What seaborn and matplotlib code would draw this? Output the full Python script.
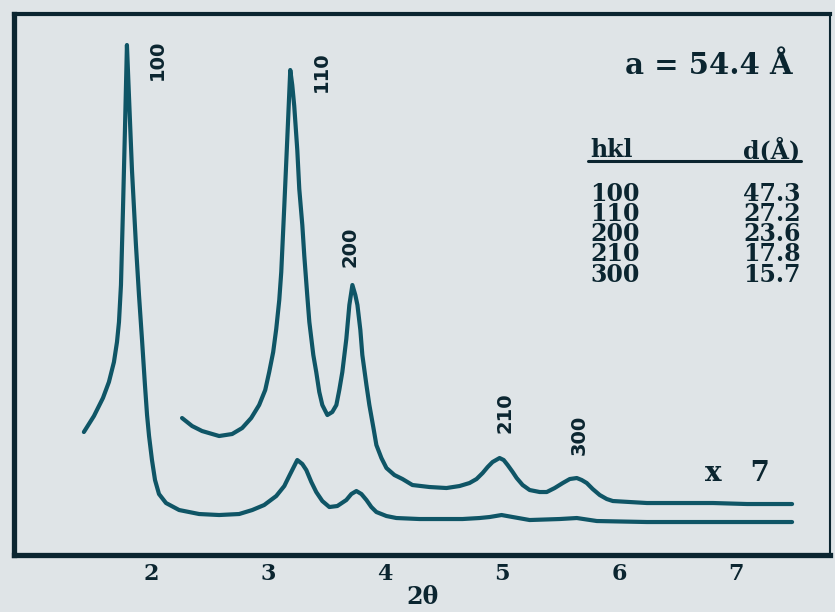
import matplotlib
matplotlib.use("Agg")
import matplotlib.pyplot as plt
import matplotlib.lines as mlines
from matplotlib.transforms import ScaledTranslation
import pandas as pd
import seaborn as sns

# ---------------- data ----------------
two_theta_x1 = [1.469, 1.555, 1.632, 1.683, 1.726, 1.752, 1.769, 1.786, 1.803, 1.820,
                1.837, 1.854, 1.880, 1.914, 1.940, 1.966, 1.991, 2.009, 2.026, 2.051,
                2.077, 2.111, 2.171, 2.283, 2.454, 2.625, 2.796, 2.908, 3.010, 3.113,
                3.182, 3.224, 3.293, 3.336, 3.370, 3.413, 3.455, 3.507, 3.567, 3.635,
                3.712, 3.755, 3.798, 3.841, 3.884, 3.926, 3.969, 4.055, 4.140, 4.337,
                4.705, 4.851, 4.937, 5.039, 5.134, 5.279, 5.536, 5.682, 5.853, 6.281,
                6.906, 7.522]
intensity_x1 = [123, 139, 157, 173, 193, 213, 233, 270, 345, 425,
                510, 460, 385, 310, 260, 215, 170, 140, 119, 95,
                75, 61, 52, 45, 41, 40, 41, 45, 50, 59,
                69, 79, 95, 91, 85, 73, 63, 54, 48, 49,
                55, 61, 64, 61, 55, 48, 43, 39, 37, 36,
                36, 37, 38, 40, 38, 35, 36, 37, 34, 33,
                33, 33]

two_theta_x7 = [2.308, 2.394, 2.479, 2.625, 2.736, 2.822, 2.899, 2.967, 3.019, 3.053,
                3.087, 3.113, 3.139, 3.156, 3.182, 3.207, 3.233, 3.250, 3.267, 3.293,
                3.310, 3.336, 3.353, 3.378, 3.396, 3.430, 3.455, 3.481, 3.507, 3.550,
                3.592, 3.627, 3.652, 3.678, 3.712, 3.738, 3.764, 3.789, 3.807, 3.832,
                3.849, 3.884, 3.909, 3.944, 3.969, 4.012, 4.055, 4.123, 4.192, 4.277,
                4.423, 4.568, 4.680, 4.765, 4.825, 4.877, 4.920, 4.962, 5.022, 5.057,
                5.091, 5.134, 5.168, 5.219, 5.279, 5.365, 5.425, 5.493, 5.562, 5.622,
                5.682, 5.724, 5.767, 5.818, 5.878, 5.938, 5.990, 6.135, 6.281, 6.563,
                6.846, 7.137, 7.522]
intensity_x7 = [137, 129, 124, 119, 121, 127, 137, 150, 165, 183,
                203, 226, 255, 283, 349, 415, 485, 470, 449, 405,
                366, 330, 299, 260, 233, 200, 183, 163, 150, 140,
                143, 150, 165, 183, 216, 250, 270, 260, 250, 225,
                200, 170, 150, 127, 110, 97, 87, 80, 76, 70,
                68, 67, 69, 72, 76, 82, 88, 93, 97, 95,
                90, 83, 77, 70, 65, 63, 63, 67, 72, 76,
                77, 75, 72, 66, 60, 56, 54, 53, 52, 52,
                52, 51, 51]

peak_hkl = ["100", "110", "200", "210", "300"]
d_spacing = ["47.3", "27.2", "23.6", "17.8", "15.7"]
lattice_a = "54.4"
x_ticks = [2, 3, 4, 5, 6, 7]
scale_label = "x   7"

# ---------------- style ----------------
BG = "#dfe4e7"
LINE = "#0f5566"
INK = "#0b2530"

sns.set_style("white")
plt.rcParams["font.family"] = ["DejaVu Serif", "DejaVu Sans"]
plt.rcParams["lines.solid_joinstyle"] = "round"
plt.rcParams["lines.solid_capstyle"] = "round"

fig = plt.figure(figsize=(8.35, 6.12), dpi=100, facecolor=BG)
ax = fig.add_axes([0.0168, 0.0931, 0.9772, 0.8840], facecolor=BG)

df = pd.concat([
    pd.DataFrame({"two_theta": two_theta_x1, "intensity": intensity_x1, "scan": "x1"}),
    pd.DataFrame({"two_theta": two_theta_x7, "intensity": intensity_x7, "scan": "x7"}),
], ignore_index=True)

sns.lineplot(data=df, x="two_theta", y="intensity", hue="scan",
             palette={"x1": LINE, "x7": LINE}, estimator=None, sort=False,
             legend=False, linewidth=3.0, ax=ax)

ax.set_xlim(0.872, 7.846)
ax.set_ylim(0, 541)

# spines
for side, lw in {"left": 3.8, "bottom": 3.8, "top": 3.0, "right": 1.5}.items():
    ax.spines[side].set_visible(True)
    ax.spines[side].set_linewidth(lw)
    ax.spines[side].set_color(INK)

ax.set_yticks([])
ax.set_xticks(x_ticks)
ax.set_xticklabels([str(t) for t in x_ticks])
ax.tick_params(axis="x", direction="in", length=16, width=2.4, color=INK,
               pad=6, labelsize=16, labelcolor=INK)
for lab in ax.get_xticklabels():
    lab.set_fontweight("bold")
    lab.set_transform(lab.get_transform() + ScaledTranslation(0.05, 0, fig.dpi_scale_trans))

ax.set_xlabel("2θ", fontsize=17, fontweight="bold", color=INK, labelpad=0)
ax.set_ylabel("")

# peak labels (rotated hkl)
label_pos = [(2.10, 495), (3.50, 483), (3.74, 308), (5.07, 142), (5.70, 120)]
for hkl, (lx, ly) in zip(peak_hkl, label_pos):
    ax.text(lx, ly, hkl, rotation=90, ha="center", va="center",
            fontsize=14, fontweight="bold", color=INK, family=["DejaVu Sans"])

# scale factor
ax.text(0.886, 0.150, scale_label, transform=ax.transAxes, ha="center", va="center",
        fontsize=20, fontweight="bold", color=INK)

# lattice parameter
ax.text(0.852, 0.905, f"a = {lattice_a} Å", transform=ax.transAxes, ha="center",
        va="center", fontsize=21, fontweight="bold", color=INK)

# table
ax.text(0.706, 0.749, "hkl", transform=ax.transAxes, ha="left", va="center",
        fontsize=17, fontweight="bold", color=INK)
ax.text(0.964, 0.749, "d(Å)", transform=ax.transAxes, ha="right", va="center",
        fontsize=17, fontweight="bold", color=INK)
ax.add_line(mlines.Line2D([0.703, 0.965], [0.729, 0.729], transform=ax.transAxes,
                          color=INK, linewidth=2.2))
ax.text(0.706, 0.690, "\n".join(peak_hkl), transform=ax.transAxes, ha="left", va="top",
        fontsize=17, fontweight="bold", color=INK, linespacing=0.80)
ax.text(0.964, 0.690, "\n".join(d_spacing), transform=ax.transAxes, ha="right", va="top",
        multialignment="right", fontsize=17, fontweight="bold", color=INK, linespacing=0.80)

fig.savefig("out.png", dpi=100, facecolor=BG)
